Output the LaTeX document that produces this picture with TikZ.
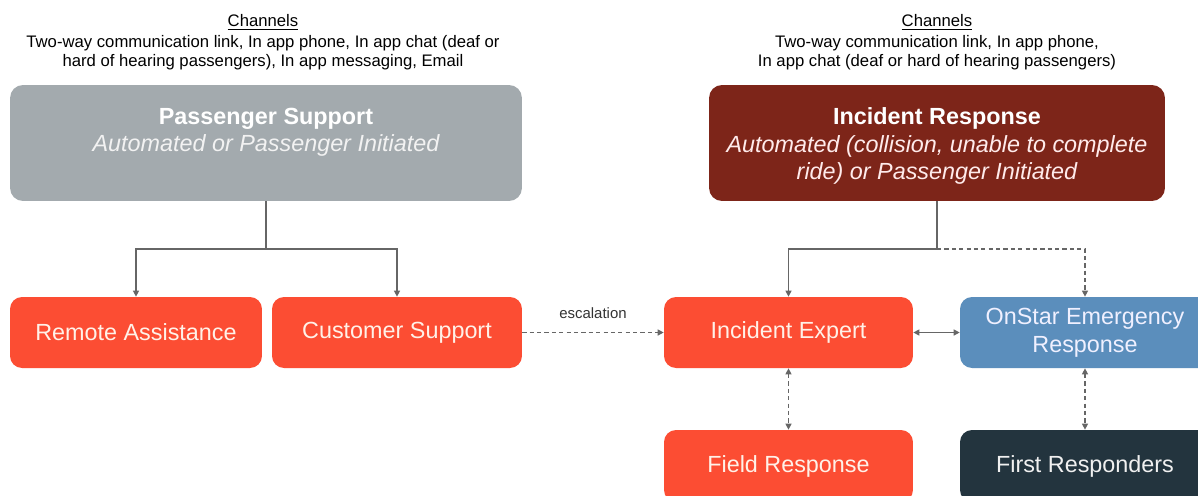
\documentclass[tikz,border=0pt]{standalone}
\usepackage{fontspec}
\setmainfont{Liberation Sans}
\usetikzlibrary{arrows.meta}
\definecolor{psgray}{HTML}{A3AAAE}
\definecolor{irred}{HTML}{7D2519}
\definecolor{orng}{HTML}{FC4D33}
\definecolor{osblue}{HTML}{5B8EBC}
\definecolor{frdark}{HTML}{23343E}
\definecolor{lngray}{HTML}{666666}
\definecolor{cream}{HTML}{FFF1E8}
\tikzset{
  bigbox/.style={draw=none, rounded corners=0.26cm, minimum height=2.32cm, inner sep=0pt},
  smallbox/.style={draw=none, rounded corners=0.24cm, minimum height=1.42cm, inner sep=0pt,
    text=cream, font=\fontsize{13.3}{16}\selectfont, align=center},
  chantext/.style={align=center, font=\fontsize{9.5}{10.8}\selectfont, text=black},
  conn/.style={draw=lngray, line width=0.7pt, -{Triangle[length=3.4pt,width=3.4pt]}},
  conn2/.style={draw=lngray, line width=0.7pt, {Triangle[length=3.4pt,width=3.4pt]}-{Triangle[length=3.4pt,width=3.4pt]}},
  plainline/.style={draw=lngray, line width=0.7pt},
  dashpat/.style={dash pattern=on 2.4pt off 1.8pt},
}
\begin{document}
\begin{tikzpicture}[x=0.02cm, y=-0.02cm]
\clip (0,0) rectangle (1198,495);
\fill[white] (0,0) rectangle (1198,495);

% Channels texts
\node[chantext] (chl) at (263,42.5) {\underline{Channels}\\[1.2pt]
  Two-way communication link, In app phone, In app chat (deaf or\\
  hard of hearing passengers), In app messaging, Email};
\node[chantext] (chr) at (937,42.5) {\underline{Channels}\\[1.2pt]
  Two-way communication link, In app phone,\\
  In app chat (deaf or hard of hearing passengers)};

% Top boxes
\node[bigbox, fill=psgray, minimum width=10.24cm] (ps) at (266,143) {};
\node[align=center, text=white, font=\fontsize{13.3}{15.4}\selectfont] (pst) at (266,132.5)
  {\textbf{Passenger Support}\\{\color{white!95!black}\itshape Automated or Passenger Initiated}};

\node[bigbox, fill=irred, minimum width=9.12cm] (ir) at (937,143) {};
\node[align=center, text=white, font=\fontsize{13.3}{15.6}\selectfont] (irt) at (937,146)
  {\textbf{Incident Response}\\{\color{white!92!red}\itshape Automated (collision, unable to complete}\\
   {\color{white!92!red}\itshape ride) or Passenger Initiated}};

% Second row
\node[smallbox, fill=orng, minimum width=5.04cm] (ra) at (136,332.5) {Remote Assistance};
\node[smallbox, fill=orng, minimum width=5.0cm] (cs) at (397,332.5) {Customer Support};
\node[smallbox, fill=orng, minimum width=4.98cm] (ie) at (788.5,332.5) {Incident Expert};
\node[smallbox, fill=osblue, minimum width=5.0cm, text=white!94!blue] (os) at (1085,332.5) {OnStar Emergency\\Response};

% Third row
\node[smallbox, fill=orng, minimum width=4.98cm, minimum height=1.44cm] (fr) at (788.5,466) {Field Response};
\node[smallbox, fill=frdark, minimum width=5.0cm, minimum height=1.44cm, text=white!94!black] (fir) at (1085,466) {First Responders};

% Junctions
\coordinate (psj) at (ps.south |- 0,249);
\coordinate (irj) at (ir.south |- 0,249);

% Connectors
\draw[plainline] (ps.south) -- (psj);
\draw[conn] (psj) -| (ra.north);
\draw[conn] (psj) -| (cs.north);

\draw[plainline] (ir.south) -- (irj);
\draw[conn] (irj) -| (ie.north);
\draw[conn, dashpat] (irj) -| (os.north);

\draw[conn, dashpat] (cs.east) -- node[above=4pt, font=\fontsize{8.5}{9}\selectfont, text=black!80] (esc) {escalation} (ie.west);
\draw[conn2] (ie.east) -- (os.west);
\draw[conn2, dashpat] (ie.south) -- (fr.north);
\draw[conn2, dashpat] (os.south) -- (fir.north);
\end{tikzpicture}
\end{document}
